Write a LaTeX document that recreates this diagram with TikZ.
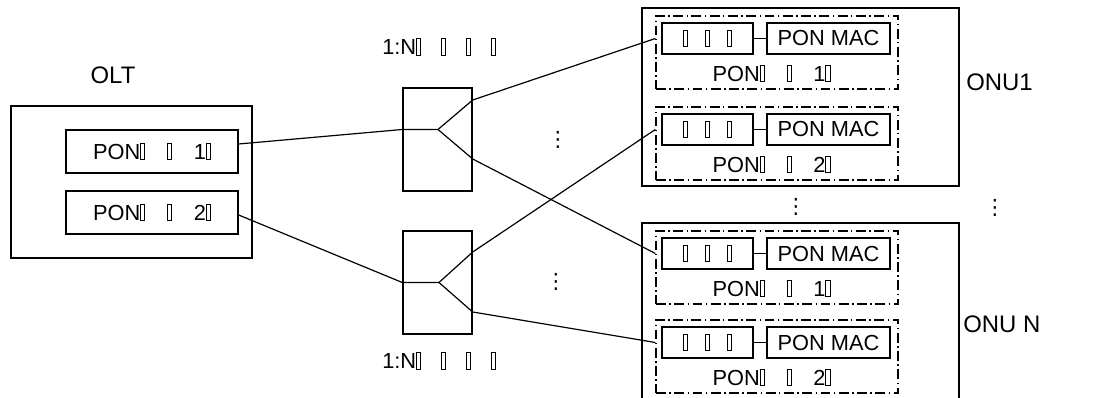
\documentclass[tikz,border=0pt]{standalone}
\usepackage{fontspec}
\setmainfont{Liberation Sans}
\newfontfamily\symfont{DejaVu Sans}
\usetikzlibrary{calc}
% empty glyph box, as printed in the reference
\newcommand{\tf}{{\setlength{\fboxsep}{0pt}\setlength{\fboxrule}{0.6pt}\fbox{\rule{0pt}{0.72em}\hspace{0.15em}}}}
\tikzset{
  frame/.style={draw, line width=1pt, inner sep=0pt},
  port/.style={draw, line width=0.9pt, inner sep=0pt, font=\fontsize{15.5}{18}\selectfont},
  module/.style={draw, line width=0.9pt, dash pattern=on 7pt off 2.5pt on 1pt off 2.5pt,
    inner sep=0pt, minimum width=6.05cm, minimum height=1.825cm},
  txt/.style={inner sep=0pt, font=\fontsize{15.5}{18}\selectfont},
  lbl/.style={inner sep=0pt, font=\fontsize{17}{20}\selectfont},
  dots/.style={inner sep=0pt, font=\symfont\fontsize{15}{17}\selectfont},
  link/.style={line width=0.85pt},
}
\begin{document}
\begin{tikzpicture}[x=0.025cm, y=-0.025cm]
\useasboundingbox (0,0) rectangle (1102,398);

% OLT
\node[lbl] (oltlabel) at (113,75) {OLT};
\node[frame, minimum width=6.025cm, minimum height=3.8cm] (olt) at (131.5,182) {};
\node[port, minimum width=4.3cm, minimum height=1.075cm] (port1) at (152,151.5)
  {PON\tf\hspace{1em}\tf\hspace{1em}1\tf};
\node[port, minimum width=4.3cm, minimum height=1.075cm] (port2) at (152,212.5)
  {PON\tf\hspace{1em}\tf\hspace{1em}2\tf};

% splitters
\node[frame, minimum width=1.725cm, minimum height=2.575cm] (split1) at (437.5,139.5) {};
\node[frame, minimum width=1.725cm, minimum height=2.575cm] (split2) at (437.5,282.5) {};
\node[txt, anchor=west] (split1label) at (382,47)
  {1:N\tf\hspace{0.92em}\tf\hspace{0.92em}\tf\hspace{0.92em}\tf};
\node[txt, anchor=west] (split2label) at (382,361)
  {1:N\tf\hspace{0.92em}\tf\hspace{0.92em}\tf\hspace{0.92em}\tf};

% ONUs
\node[frame, minimum width=7.925cm, minimum height=4.45cm] (onu1) at (800.5,97) {};
\node[frame, minimum width=7.925cm, minimum height=4.45cm] (onuN) at (800.5,312) {};
\node[lbl, anchor=west] (onu1label) at (966,82.5) {ONU1};
\node[lbl, anchor=west] (onuNlabel) at (963,324) {ONU N};

\foreach \n/\y/\k in {1/52.5/1, 2/143.5/2, 3/267.5/1, 4/356.5/2} {
  \node[module] (m\n) at (777,\y) {};
  \node[port, minimum width=2.275cm, minimum height=0.775cm] (o\n) at (707.5,\y-14)
    {\tf\hspace{0.78em}\tf\hspace{0.78em}\tf};
  \node[port, minimum width=3.075cm, minimum height=0.775cm] (mac\n) at (828.5,\y-14) {PON MAC};
  \node[txt] (pl\n) at (771.5,\y+21) {PON\tf\hspace{1em}\tf\hspace{1em}\k\tf};
  \draw[link] (o\n) -- (mac\n);
}

% fibre links
\coordinate (s1in) at ($(split1.west)+(0,-10)$);
\coordinate (s1mid) at ($(split1.center)+(0.5,-10)$);
\coordinate (s1up) at ($(split1.east)+(0,-39.5)$);
\coordinate (s1dn) at ($(split1.east)+(0,19.5)$);
\coordinate (s2in) at ($(split2.west)+(0,0)$);
\coordinate (s2mid) at ($(split2.center)+(1.5,0)$);
\coordinate (s2up) at ($(split2.east)+(0,-30.5)$);
\coordinate (s2dn) at ($(split2.east)+(0,29.5)$);

\draw[link] ($(port1.east)+(0,-7.5)$) -- (s1in) -- (s1mid) -- (s1up) -- (m1.west |- o1.center);
\draw[link] (s1mid) -- (s1dn) -- (m3.west |- o3.center);
\draw[link] ($(port2.east)+(0,2.5)$) -- (s2in) -- (s2mid) -- (s2up) -- (m2.west |- o2.center);
\draw[link] (s2mid) -- (s2dn) -- (m4.west |- o4.center);

% dots
\node[dots] (dots1) at (558,140) {⋮};
\node[dots] (dots2) at (556,282) {⋮};
\node[dots] (dots3) at (796,207) {⋮};
\node[dots] (dots4) at (995,208) {⋮};
\end{tikzpicture}
\end{document}
